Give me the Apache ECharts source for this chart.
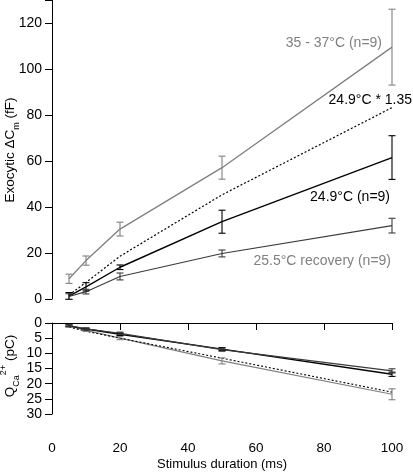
<!DOCTYPE html>
<html><head><meta charset="utf-8">
<script src="https://cdn.jsdelivr.net/npm/echarts@6/dist/echarts.min.js"></script>
<style>html,body{margin:0;padding:0;background:#fff}#c{width:413px;height:472px}</style>
</head><body><div id="c"></div>
<script>
// Stimulus durations (ms)
const durations = [5, 10, 20, 50, 100];

// Exocytic ΔCm (fF)
const warmCm = [8.8, 16.7, 30.4, 57.1, 109.5];
const warmCmErr = [2, 2, 3, 5, 16.5];
const coldCm = [1.3, 5.3, 13.8, 33.6, 61.5];
const coldCmErr = [1.5, 1.8, 1, 5, 9.5];
const scaledCm = [1.7, 7.2, 18.6, 45.3, 83.2];
const recoveryCm = [1.1, 3.2, 9.8, 19.8, 31.9];
const recoveryCmErr = [1.2, 1, 1.5, 1.5, 3.2];

// Q Ca2+ (pC)
const coldQ = [0.9, 2.0, 3.7, 8.6, 16.9];
const coldQErr = [0.3, 0.3, 0.4, 0.5, 0.7];
const recoveryQ = [0.9, 1.9, 3.4, 8.8, 15.8];
const recoveryQErr = [0.3, 0.3, 0.4, 0.5, 0.7];
const warmQ = [1.0, 2.4, 5.0, 12.5, 23.5];
const warmQErr = [0.3, 0.4, 0.5, 1.0, 1.8];
const scaledQ = [1.3, 2.7, 5.0, 11.6, 22.8];

const cmTicks = [0, 20, 40, 60, 80, 100, 120];
const qTicks = [0, 5, 10, 15, 20, 25, 30];
const xTicks = [0, 20, 40, 60, 80, 100];

const FONT = 'Liberation Sans, Arial, sans-serif';
const chart = echarts.init(document.getElementById('c'), null, {renderer: 'canvas'});

function pairs(ys) { return durations.map((x, i) => [x, ys[i]]); }
function errData(ys, es) { return durations.map((x, i) => [x, ys[i] - es[i], ys[i] + es[i]]); }

function lineSeries(ys, color, width, type, gi) {
  return {
    type: 'line', xAxisIndex: gi, yAxisIndex: gi, data: pairs(ys), symbol: 'none',
    lineStyle: {color: color, width: width, type: type}, z: 3, animation: false
  };
}
function errSeries(ys, es, color, gi) {
  return {
    type: 'custom', xAxisIndex: gi, yAxisIndex: gi, data: errData(ys, es), z: 4, animation: false,
    renderItem: function (params, api) {
      const x = api.value(0);
      const lo = api.coord([x, api.value(1)]);
      const hi = api.coord([x, api.value(2)]);
      const w = 3.5;
      const s = {stroke: color, lineWidth: 1.1, fill: null};
      return {type: 'group', children: [
        {type: 'line', shape: {x1: lo[0], y1: lo[1], x2: hi[0], y2: hi[1]}, style: s},
        {type: 'line', shape: {x1: lo[0] - w, y1: lo[1], x2: lo[0] + w, y2: lo[1]}, style: s},
        {type: 'line', shape: {x1: hi[0] - w, y1: hi[1], x2: hi[0] + w, y2: hi[1]}, style: s}
      ]};
    }
  };
}

const GRAY = '#808080', DARK = '#3a3a3a', BLACK = '#000';
const axisLine = {show: true, lineStyle: {color: '#000', width: 1}};
const axisTick = {show: true, length: 7, lineStyle: {color: '#000', width: 1}};
const yLabel = {color: '#000', fontSize: 14, fontFamily: FONT, margin: 10};

chart.setOption({
  animation: false,
  backgroundColor: '#fff',
  grid: [
    {left: 52, top: 0, width: 340, height: 299},
    {left: 52, top: 323, width: 340, height: 91}
  ],
  xAxis: [
    {gridIndex: 0, type: 'value', min: 0, max: 100, interval: 20, show: false},
    {gridIndex: 1, type: 'value', min: 0, max: 100, interval: 20, position: 'bottom', offset: 17,
      axisLine: axisLine, axisTick: axisTick, splitLine: {show: false},
      axisLabel: {color: '#000', fontSize: 13.5, fontFamily: FONT, margin: 10,
        formatter: v => xTicks.indexOf(v) >= 0 ? String(v) : ''},
      name: 'Stimulus duration (ms)', nameLocation: 'middle', nameGap: 27,
      nameTextStyle: {color: '#000', fontSize: 13, fontFamily: FONT}}
  ],
  yAxis: [
    {gridIndex: 0, type: 'value', min: 0, max: 130, interval: 20,
      axisLine: axisLine, axisTick: axisTick, splitLine: {show: false}, axisLabel: Object.assign({}, yLabel, {
        formatter: v => cmTicks.indexOf(v) >= 0 ? String(v) : ''})},
    {gridIndex: 1, type: 'value', min: 0, max: 30, interval: 5, inverse: true,
      axisLine: axisLine, axisTick: axisTick, splitLine: {show: false}, axisLabel: Object.assign({}, yLabel, {
        formatter: v => qTicks.indexOf(v) >= 0 ? String(v) : ''})}
  ],
  series: [
    lineSeries(warmCm, GRAY, 1.3, 'solid', 0),
    errSeries(warmCm, warmCmErr, GRAY, 0),
    lineSeries(scaledCm, BLACK, 1.2, [2, 2], 0),
    lineSeries(coldCm, BLACK, 1.4, 'solid', 0),
    errSeries(coldCm, coldCmErr, BLACK, 0),
    lineSeries(recoveryCm, DARK, 1.1, 'solid', 0),
    errSeries(recoveryCm, recoveryCmErr, DARK, 0),

    lineSeries(warmQ, GRAY, 1.2, 'solid', 1),
    errSeries(warmQ, warmQErr, GRAY, 1),
    lineSeries(scaledQ, BLACK, 1.1, [2, 2], 1),
    lineSeries(coldQ, BLACK, 1.4, 'solid', 1),
    errSeries(coldQ, coldQErr, BLACK, 1),
    lineSeries(recoveryQ, DARK, 1.2, 'solid', 1),
    errSeries(recoveryQ, recoveryQErr, DARK, 1)
  ],
  graphic: [
    {type: 'text', x: 382, y: 43, style: {text: '35 - 37°C (n=9)', fill: GRAY, font: '14px ' + FONT, align: 'right', verticalAlign: 'middle'}},
    {type: 'text', x: 412, y: 100, style: {text: '24.9°C * 1.35', fill: BLACK, font: '14px ' + FONT, align: 'right', verticalAlign: 'middle'}},
    {type: 'text', x: 390, y: 197, style: {text: '24.9°C (n=9)', fill: BLACK, font: '14px ' + FONT, align: 'right', verticalAlign: 'middle'}},
    {type: 'text', x: 391, y: 261, style: {text: '25.5°C recovery (n=9)', fill: GRAY, font: '14px ' + FONT, align: 'right', verticalAlign: 'middle'}},
    {type: 'text', x: 10, y: 150, rotation: Math.PI / 2,
      style: {text: 'Exocytic ΔC{sub|m} (fF)', fill: BLACK, font: '13.5px ' + FONT, align: 'center', verticalAlign: 'middle',
        rich: {sub: {fontSize: 9, fontFamily: FONT, fill: BLACK, verticalAlign: 'bottom', lineHeight: 22}}}},
    {type: 'text', x: 10, y: 366, rotation: Math.PI / 2,
      style: {text: 'Q{sub|Ca}{sup|2+} (pC)', fill: BLACK, font: '13.5px ' + FONT, align: 'center', verticalAlign: 'middle',
        rich: {sub: {fontSize: 9, fontFamily: FONT, fill: BLACK, verticalAlign: 'bottom', lineHeight: 22},
               sup: {fontSize: 9, fontFamily: FONT, fill: BLACK, verticalAlign: 'top', lineHeight: 22}}}}
  ]
});
</script></body></html>
